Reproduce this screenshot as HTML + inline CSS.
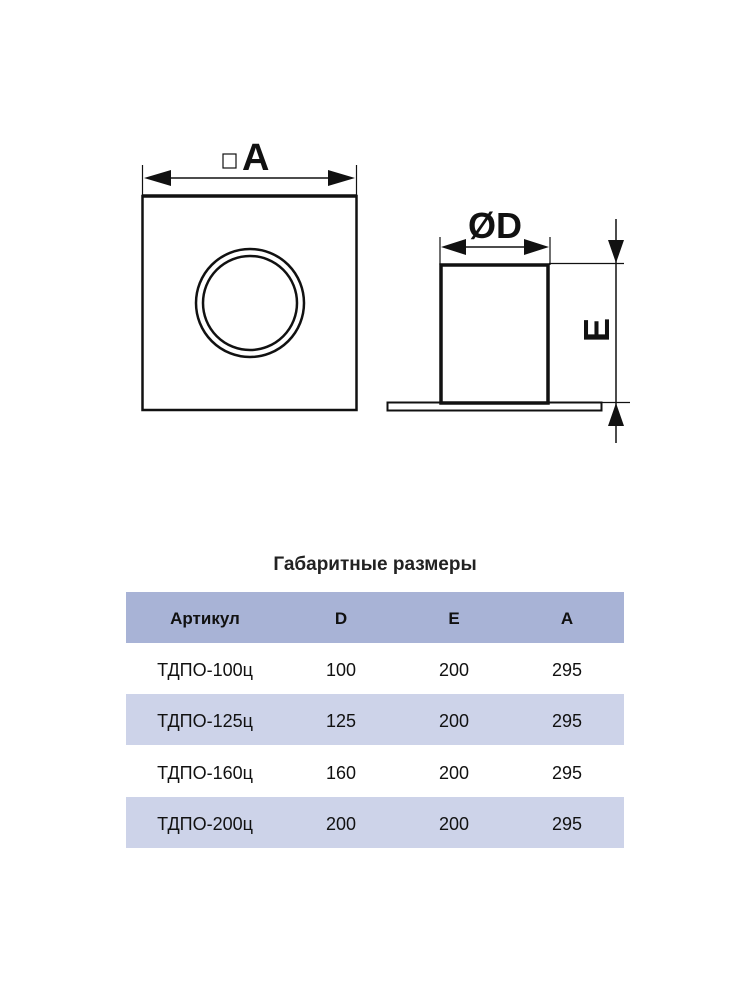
<!DOCTYPE html>
<html><head><meta charset="utf-8"><style>
html,body{margin:0;padding:0;background:#fff;}
svg{display:block;}
text{font-family:"Liberation Sans","DejaVu Sans",sans-serif;}
</style></head><body>
<svg width="750" height="1000" viewBox="0 0 750 1000" xmlns="http://www.w3.org/2000/svg">
<rect width="750" height="1000" fill="#fff"/>
<g stroke="#111" fill="none">
<!-- square -->
<rect x="142.5" y="196" width="214" height="214" stroke-width="2.5"/>
<line x1="142" y1="196" x2="357" y2="196" stroke-width="3.5"/>
<circle cx="250" cy="303" r="54" stroke-width="2.5"/>
<circle cx="250" cy="303" r="47" stroke-width="2.5"/>
<!-- A dimension -->
<line x1="142.5" y1="165" x2="142.5" y2="196" stroke-width="1.2"/>
<line x1="356.5" y1="165" x2="356.5" y2="196" stroke-width="1.2"/>
<line x1="150" y1="178" x2="350" y2="178" stroke-width="1.5"/>
<rect x="223" y="154" width="13" height="14" stroke-width="1.2"/>
<!-- side view -->
<rect x="441" y="265" width="107" height="138" stroke-width="3.5"/>
<rect x="387.5" y="402.5" width="214" height="8" stroke-width="2"/>
<line x1="440" y1="237" x2="440" y2="265" stroke-width="1.2"/>
<line x1="550" y1="237" x2="550" y2="265" stroke-width="1.2"/>
<line x1="446" y1="247" x2="545" y2="247" stroke-width="1.5"/>
<line x1="616" y1="219" x2="616" y2="443" stroke-width="1.5"/>
<line x1="549" y1="263.5" x2="624" y2="263.5" stroke-width="1.2"/>
<line x1="602" y1="402.5" x2="630" y2="402.5" stroke-width="1.2"/>
</g>
<g fill="#111">
<polygon points="144,178 171,170 171,186"/>
<polygon points="355,178 328,170 328,186"/>
<polygon points="441,247 466,239 466,255"/>
<polygon points="549,247 524,239 524,255"/>
<polygon points="616,263 608,240 624,240"/>
<polygon points="616,403 608,426 624,426"/>
</g>
<text x="242" y="170" font-size="38" font-weight="bold" fill="#111">A</text>
<text x="495" y="238" font-size="36" font-weight="bold" fill="#111" text-anchor="middle">ØD</text>
<text x="0" y="0" font-size="36" font-weight="bold" fill="#111" text-anchor="middle" transform="translate(609,330) rotate(-90)">E</text>
<!-- table -->
<text x="375" y="570" font-size="19" font-weight="bold" fill="#222" text-anchor="middle">Габаритные размеры</text>
<rect x="126" y="592" width="498" height="51" fill="#a8b3d6"/>
<rect x="126" y="694" width="498" height="51" fill="#cdd3e9"/>
<rect x="126" y="797" width="498" height="51" fill="#cdd3e9"/>
<g font-size="17" fill="#111" text-anchor="middle" font-weight="bold">
<text x="205" y="624">Артикул</text><text x="341" y="624">D</text><text x="454" y="624">E</text><text x="567" y="624">A</text>
</g>
<g font-size="18" fill="#111" text-anchor="middle">
<text x="205" y="676">ТДПО-100ц</text><text x="341" y="676">100</text><text x="454" y="676">200</text><text x="567" y="676">295</text>
<text x="205" y="727">ТДПО-125ц</text><text x="341" y="727">125</text><text x="454" y="727">200</text><text x="567" y="727">295</text>
<text x="205" y="779">ТДПО-160ц</text><text x="341" y="779">160</text><text x="454" y="779">200</text><text x="567" y="779">295</text>
<text x="205" y="830">ТДПО-200ц</text><text x="341" y="830">200</text><text x="454" y="830">200</text><text x="567" y="830">295</text>
</g>
</svg>
</body></html>
